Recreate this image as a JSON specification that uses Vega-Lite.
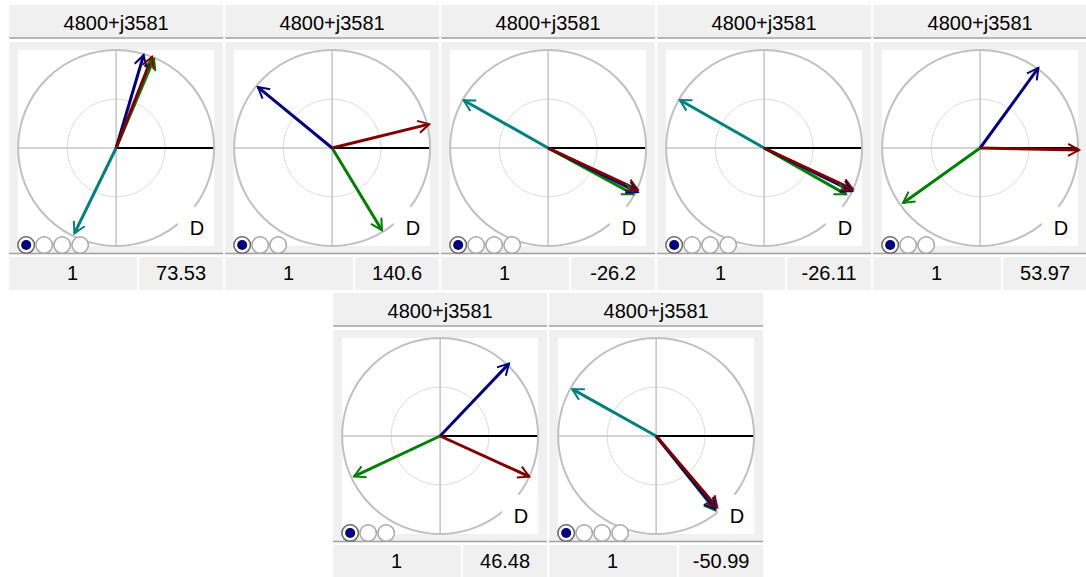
{
"$schema": "https://vega.github.io/schema/vega-lite/v6.json",
"padding": {"left": 8, "top": 5, "right": 0, "bottom": 0},
"background": "#ffffff",
"config": {"view": {"stroke": null}, "font": "Liberation Sans", "text": {"font": "Liberation Sans"}, "axis": {"disable": true}, "legend": {"disable": true}},
"datasets": {
"panels": [
{"panel": 1, "title": "4800+j3581", "ref": "1", "value": "73.53"},
{"panel": 2, "title": "4800+j3581", "ref": "1", "value": "140.6"},
{"panel": 3, "title": "4800+j3581", "ref": "1", "value": "-26.2"},
{"panel": 4, "title": "4800+j3581", "ref": "1", "value": "-26.11"},
{"panel": 5, "title": "4800+j3581", "ref": "1", "value": "53.97"},
{"panel": 6, "title": "4800+j3581", "ref": "1", "value": "46.48"},
{"panel": 7, "title": "4800+j3581", "ref": "1", "value": "-50.99"}
],
"phasors": [
{"panel": 1, "phase": "teal", "idx": 4, "ang": -116, "x": -0.4252, "y": -0.8718},
{"panel": 1, "phase": "green", "idx": 3, "ang": 67, "x": 0.3868, "y": 0.9113},
{"panel": 1, "phase": "navy", "idx": 1, "ang": 73.53, "x": 0.2807, "y": 0.9494},
{"panel": 1, "phase": "red", "idx": 2, "ang": 68.5, "x": 0.3665, "y": 0.9304},
{"panel": 2, "phase": "green", "idx": 3, "ang": -58.8, "x": 0.5077, "y": -0.8383},
{"panel": 2, "phase": "navy", "idx": 1, "ang": 140.6, "x": -0.7573, "y": 0.6221},
{"panel": 2, "phase": "red", "idx": 2, "ang": 13.8, "x": 0.9906, "y": 0.2433},
{"panel": 3, "phase": "teal", "idx": 4, "ang": 150.5, "x": -0.8617, "y": 0.4875},
{"panel": 3, "phase": "green", "idx": 3, "ang": -28.5, "x": 0.87, "y": -0.4724},
{"panel": 3, "phase": "navy", "idx": 1, "ang": -26.2, "x": 0.9152, "y": -0.4503},
{"panel": 3, "phase": "red", "idx": 2, "ang": -25, "x": 0.9154, "y": -0.4268},
{"panel": 4, "phase": "teal", "idx": 4, "ang": 150.3, "x": -0.8599, "y": 0.4905},
{"panel": 4, "phase": "green", "idx": 3, "ang": -29.5, "x": 0.8355, "y": -0.4727},
{"panel": 4, "phase": "navy", "idx": 1, "ang": -26.11, "x": 0.898, "y": -0.4401},
{"panel": 4, "phase": "red", "idx": 2, "ang": -25, "x": 0.9063, "y": -0.4226},
{"panel": 5, "phase": "green", "idx": 3, "ang": -144.5, "x": -0.7856, "y": -0.5604},
{"panel": 5, "phase": "navy", "idx": 1, "ang": 53.97, "x": 0.5941, "y": 0.8168},
{"panel": 5, "phase": "red", "idx": 2, "ang": -1.2, "x": 1.0098, "y": -0.0212},
{"panel": 6, "phase": "green", "idx": 3, "ang": -154.8, "x": -0.8777, "y": -0.413},
{"panel": 6, "phase": "navy", "idx": 1, "ang": 46.48, "x": 0.7026, "y": 0.7394},
{"panel": 6, "phase": "red", "idx": 2, "ang": -24.5, "x": 0.91, "y": -0.4147},
{"panel": 7, "phase": "teal", "idx": 4, "ang": 150.8, "x": -0.8554, "y": 0.4781},
{"panel": 7, "phase": "green", "idx": 3, "ang": -51.5, "x": 0.6038, "y": -0.7591},
{"panel": 7, "phase": "navy", "idx": 1, "ang": -50.99, "x": 0.6043, "y": -0.7459},
{"panel": 7, "phase": "red", "idx": 2, "ang": -49.5, "x": 0.6235, "y": -0.73}
]
},
"spacing": 3,
"center": true,
"vconcat": [
{"hconcat": [
{"width":214,"height":285,"data":{"name":"panels"},"transform":[{"filter":"datum.panel == 1"}],"layer":[
{"mark":{"type":"rect","color":"#f0f0f0"},"encoding":{"x":{"datum":-1.0918,"type":"quantitative","scale":{"domain":[-1.0918,1.0918],"nice":false,"zero":false},"axis":null},"x2":{"datum":1.0918},"y":{"datum":1.4592,"type":"quantitative","scale":{"domain":[-1.449,1.4592],"nice":false,"zero":false},"axis":null},"y2":{"datum":1.1224}}},
{"mark":{"type":"rule","color":"#a0a0a0","strokeWidth":1.5},"encoding":{"x":{"datum":-1.0918},"x2":{"datum":1.0918},"y":{"datum":1.1224}}},
{"mark":{"type":"text","fontSize":20,"color":"#000000"},"encoding":{"x":{"datum":0},"y":{"datum":1.268},"text":{"field":"title"}}},
{"mark":{"type":"rect","color":"#f0f0f0"},"encoding":{"x":{"datum":-1.0918},"x2":{"datum":1.0918},"y":{"datum":1.0816},"y2":{"datum":-1.0765}}},
{"mark":{"type":"rule","color":"#a0a0a0","strokeWidth":1.5},"encoding":{"x":{"datum":-1.0918},"x2":{"datum":1.0918},"y":{"datum":-1.0765}}},
{"mark":{"type":"rect","color":"#ffffff"},"encoding":{"x":{"datum":-1},"x2":{"datum":1},"y":{"datum":1},"y2":{"datum":-1}}},
{"mark":{"type":"point","shape":"circle","size":9604,"filled":false,"color":"#dcdcdc","strokeWidth":1,"opacity":1},"encoding":{"x":{"datum":0},"y":{"datum":0}}},
{"mark":{"type":"rule","color":"#c4c4c4","strokeWidth":1.5},"encoding":{"x":{"datum":0},"y":{"datum":-1},"y2":{"datum":1}}},
{"mark":{"type":"rule","color":"#c4c4c4","strokeWidth":1.5},"encoding":{"x":{"datum":-1},"x2":{"datum":0},"y":{"datum":0}}},
{"mark":{"type":"rule","color":"#000000","strokeWidth":2},"encoding":{"x":{"datum":0},"x2":{"datum":1},"y":{"datum":0}}},
{"mark":{"type":"point","shape":"circle","size":38416,"filled":false,"color":"#c0c0c0","strokeWidth":2,"opacity":1},"encoding":{"x":{"datum":0},"y":{"datum":0}}},
{"mark":{"type":"rect","color":"#ffffff"},"encoding":{"x":{"datum":0.63},"x2":{"datum":1},"y":{"datum":-0.6},"y2":{"datum":-1}}},
{"mark":{"type":"text","fontSize":20,"color":"#000000"},"encoding":{"x":{"datum":0.824},"y":{"datum":-0.829},"text":{"value":"D"}}},
{"data":{"name":"phasors"},"transform":[{"filter":"datum.panel == 1"}],"mark":{"type":"rule","strokeWidth":3},"encoding":{"x":{"field":"x","type":"quantitative"},"y":{"field":"y","type":"quantitative"},"x2":{"datum":0},"y2":{"datum":0},"color":{"field":"phase","type":"nominal","scale":{"domain":["navy","red","green","teal"],"range":["#000080","#800000","#008000","#008080"]},"legend":null}}},
{"data":{"name":"phasors"},"transform":[{"filter":"datum.panel == 1"}],"mark":{"type":"point","shape":"M -1 -0.55 L 0 0 L -1 0.55","size":484,"filled":false,"strokeWidth":2,"opacity":1},"encoding":{"x":{"field":"x","type":"quantitative"},"y":{"field":"y","type":"quantitative"},"angle":{"field":"ang","type":"quantitative","scale":{"domain":[0,360],"range":[360,0]}},"color":{"field":"phase","type":"nominal","scale":{"domain":["navy","red","green","teal"],"range":["#000080","#800000","#008000","#008080"]},"legend":null}}},
{"data":{"name":"phasors"},"transform":[{"filter":"datum.panel == 1"}],"mark":{"type":"point","shape":"circle","size":272,"filled":true,"fill":"#ffffff","stroke":"#a8a8a8","strokeWidth":1.5,"opacity":1},"encoding":{"x":{"datum":-0.918},"y":{"datum":-0.99},"xOffset":{"field":"idx","type":"ordinal","scale":{"type":"point","domain":[1,2,3,4],"range":[0,54],"padding":0}}}},
{"data":{"name":"phasors"},"transform":[{"filter":"datum.panel == 1 && datum.idx == 1"}],"mark":{"type":"point","shape":"circle","size":272,"filled":true,"fill":"#ffffff","stroke":"#6e6e6e","strokeWidth":1.5,"opacity":1},"encoding":{"x":{"datum":-0.918},"y":{"datum":-0.99}}},
{"data":{"name":"phasors"},"transform":[{"filter":"datum.panel == 1 && datum.idx == 1"}],"mark":{"type":"point","shape":"circle","size":100,"filled":true,"color":"#000080","opacity":1},"encoding":{"x":{"datum":-0.918},"y":{"datum":-0.99}}},
{"mark":{"type":"rect","color":"#f0f0f0"},"encoding":{"x":{"datum":-1.0918},"x2":{"datum":0.214},"y":{"datum":-1.112},"y2":{"datum":-1.449}}},
{"mark":{"type":"rect","color":"#f0f0f0"},"encoding":{"x":{"datum":0.235},"x2":{"datum":1.0918},"y":{"datum":-1.112},"y2":{"datum":-1.449}}},
{"mark":{"type":"text","fontSize":20,"color":"#000000"},"encoding":{"x":{"datum":-0.445},"y":{"datum":-1.288},"text":{"field":"ref"}}},
{"mark":{"type":"text","fontSize":20,"color":"#000000"},"encoding":{"x":{"datum":0.663},"y":{"datum":-1.288},"text":{"field":"value"}}}
]},
{"width":214,"height":285,"data":{"name":"panels"},"transform":[{"filter":"datum.panel == 2"}],"layer":[
{"mark":{"type":"rect","color":"#f0f0f0"},"encoding":{"x":{"datum":-1.0918,"type":"quantitative","scale":{"domain":[-1.0918,1.0918],"nice":false,"zero":false},"axis":null},"x2":{"datum":1.0918},"y":{"datum":1.4592,"type":"quantitative","scale":{"domain":[-1.449,1.4592],"nice":false,"zero":false},"axis":null},"y2":{"datum":1.1224}}},
{"mark":{"type":"rule","color":"#a0a0a0","strokeWidth":1.5},"encoding":{"x":{"datum":-1.0918},"x2":{"datum":1.0918},"y":{"datum":1.1224}}},
{"mark":{"type":"text","fontSize":20,"color":"#000000"},"encoding":{"x":{"datum":0},"y":{"datum":1.268},"text":{"field":"title"}}},
{"mark":{"type":"rect","color":"#f0f0f0"},"encoding":{"x":{"datum":-1.0918},"x2":{"datum":1.0918},"y":{"datum":1.0816},"y2":{"datum":-1.0765}}},
{"mark":{"type":"rule","color":"#a0a0a0","strokeWidth":1.5},"encoding":{"x":{"datum":-1.0918},"x2":{"datum":1.0918},"y":{"datum":-1.0765}}},
{"mark":{"type":"rect","color":"#ffffff"},"encoding":{"x":{"datum":-1},"x2":{"datum":1},"y":{"datum":1},"y2":{"datum":-1}}},
{"mark":{"type":"point","shape":"circle","size":9604,"filled":false,"color":"#dcdcdc","strokeWidth":1,"opacity":1},"encoding":{"x":{"datum":0},"y":{"datum":0}}},
{"mark":{"type":"rule","color":"#c4c4c4","strokeWidth":1.5},"encoding":{"x":{"datum":0},"y":{"datum":-1},"y2":{"datum":1}}},
{"mark":{"type":"rule","color":"#c4c4c4","strokeWidth":1.5},"encoding":{"x":{"datum":-1},"x2":{"datum":0},"y":{"datum":0}}},
{"mark":{"type":"rule","color":"#000000","strokeWidth":2},"encoding":{"x":{"datum":0},"x2":{"datum":1},"y":{"datum":0}}},
{"mark":{"type":"point","shape":"circle","size":38416,"filled":false,"color":"#c0c0c0","strokeWidth":2,"opacity":1},"encoding":{"x":{"datum":0},"y":{"datum":0}}},
{"mark":{"type":"rect","color":"#ffffff"},"encoding":{"x":{"datum":0.63},"x2":{"datum":1},"y":{"datum":-0.6},"y2":{"datum":-1}}},
{"mark":{"type":"text","fontSize":20,"color":"#000000"},"encoding":{"x":{"datum":0.824},"y":{"datum":-0.829},"text":{"value":"D"}}},
{"data":{"name":"phasors"},"transform":[{"filter":"datum.panel == 2"}],"mark":{"type":"rule","strokeWidth":3},"encoding":{"x":{"field":"x","type":"quantitative"},"y":{"field":"y","type":"quantitative"},"x2":{"datum":0},"y2":{"datum":0},"color":{"field":"phase","type":"nominal","scale":{"domain":["navy","red","green","teal"],"range":["#000080","#800000","#008000","#008080"]},"legend":null}}},
{"data":{"name":"phasors"},"transform":[{"filter":"datum.panel == 2"}],"mark":{"type":"point","shape":"M -1 -0.55 L 0 0 L -1 0.55","size":484,"filled":false,"strokeWidth":2,"opacity":1},"encoding":{"x":{"field":"x","type":"quantitative"},"y":{"field":"y","type":"quantitative"},"angle":{"field":"ang","type":"quantitative","scale":{"domain":[0,360],"range":[360,0]}},"color":{"field":"phase","type":"nominal","scale":{"domain":["navy","red","green","teal"],"range":["#000080","#800000","#008000","#008080"]},"legend":null}}},
{"data":{"name":"phasors"},"transform":[{"filter":"datum.panel == 2"}],"mark":{"type":"point","shape":"circle","size":272,"filled":true,"fill":"#ffffff","stroke":"#a8a8a8","strokeWidth":1.5,"opacity":1},"encoding":{"x":{"datum":-0.918},"y":{"datum":-0.99},"xOffset":{"field":"idx","type":"ordinal","scale":{"type":"point","domain":[1,2,3,4],"range":[0,54],"padding":0}}}},
{"data":{"name":"phasors"},"transform":[{"filter":"datum.panel == 2 && datum.idx == 1"}],"mark":{"type":"point","shape":"circle","size":272,"filled":true,"fill":"#ffffff","stroke":"#6e6e6e","strokeWidth":1.5,"opacity":1},"encoding":{"x":{"datum":-0.918},"y":{"datum":-0.99}}},
{"data":{"name":"phasors"},"transform":[{"filter":"datum.panel == 2 && datum.idx == 1"}],"mark":{"type":"point","shape":"circle","size":100,"filled":true,"color":"#000080","opacity":1},"encoding":{"x":{"datum":-0.918},"y":{"datum":-0.99}}},
{"mark":{"type":"rect","color":"#f0f0f0"},"encoding":{"x":{"datum":-1.0918},"x2":{"datum":0.214},"y":{"datum":-1.112},"y2":{"datum":-1.449}}},
{"mark":{"type":"rect","color":"#f0f0f0"},"encoding":{"x":{"datum":0.235},"x2":{"datum":1.0918},"y":{"datum":-1.112},"y2":{"datum":-1.449}}},
{"mark":{"type":"text","fontSize":20,"color":"#000000"},"encoding":{"x":{"datum":-0.445},"y":{"datum":-1.288},"text":{"field":"ref"}}},
{"mark":{"type":"text","fontSize":20,"color":"#000000"},"encoding":{"x":{"datum":0.663},"y":{"datum":-1.288},"text":{"field":"value"}}}
]},
{"width":214,"height":285,"data":{"name":"panels"},"transform":[{"filter":"datum.panel == 3"}],"layer":[
{"mark":{"type":"rect","color":"#f0f0f0"},"encoding":{"x":{"datum":-1.0918,"type":"quantitative","scale":{"domain":[-1.0918,1.0918],"nice":false,"zero":false},"axis":null},"x2":{"datum":1.0918},"y":{"datum":1.4592,"type":"quantitative","scale":{"domain":[-1.449,1.4592],"nice":false,"zero":false},"axis":null},"y2":{"datum":1.1224}}},
{"mark":{"type":"rule","color":"#a0a0a0","strokeWidth":1.5},"encoding":{"x":{"datum":-1.0918},"x2":{"datum":1.0918},"y":{"datum":1.1224}}},
{"mark":{"type":"text","fontSize":20,"color":"#000000"},"encoding":{"x":{"datum":0},"y":{"datum":1.268},"text":{"field":"title"}}},
{"mark":{"type":"rect","color":"#f0f0f0"},"encoding":{"x":{"datum":-1.0918},"x2":{"datum":1.0918},"y":{"datum":1.0816},"y2":{"datum":-1.0765}}},
{"mark":{"type":"rule","color":"#a0a0a0","strokeWidth":1.5},"encoding":{"x":{"datum":-1.0918},"x2":{"datum":1.0918},"y":{"datum":-1.0765}}},
{"mark":{"type":"rect","color":"#ffffff"},"encoding":{"x":{"datum":-1},"x2":{"datum":1},"y":{"datum":1},"y2":{"datum":-1}}},
{"mark":{"type":"point","shape":"circle","size":9604,"filled":false,"color":"#dcdcdc","strokeWidth":1,"opacity":1},"encoding":{"x":{"datum":0},"y":{"datum":0}}},
{"mark":{"type":"rule","color":"#c4c4c4","strokeWidth":1.5},"encoding":{"x":{"datum":0},"y":{"datum":-1},"y2":{"datum":1}}},
{"mark":{"type":"rule","color":"#c4c4c4","strokeWidth":1.5},"encoding":{"x":{"datum":-1},"x2":{"datum":0},"y":{"datum":0}}},
{"mark":{"type":"rule","color":"#000000","strokeWidth":2},"encoding":{"x":{"datum":0},"x2":{"datum":1},"y":{"datum":0}}},
{"mark":{"type":"point","shape":"circle","size":38416,"filled":false,"color":"#c0c0c0","strokeWidth":2,"opacity":1},"encoding":{"x":{"datum":0},"y":{"datum":0}}},
{"mark":{"type":"rect","color":"#ffffff"},"encoding":{"x":{"datum":0.63},"x2":{"datum":1},"y":{"datum":-0.6},"y2":{"datum":-1}}},
{"mark":{"type":"text","fontSize":20,"color":"#000000"},"encoding":{"x":{"datum":0.824},"y":{"datum":-0.829},"text":{"value":"D"}}},
{"data":{"name":"phasors"},"transform":[{"filter":"datum.panel == 3"}],"mark":{"type":"rule","strokeWidth":3},"encoding":{"x":{"field":"x","type":"quantitative"},"y":{"field":"y","type":"quantitative"},"x2":{"datum":0},"y2":{"datum":0},"color":{"field":"phase","type":"nominal","scale":{"domain":["navy","red","green","teal"],"range":["#000080","#800000","#008000","#008080"]},"legend":null}}},
{"data":{"name":"phasors"},"transform":[{"filter":"datum.panel == 3"}],"mark":{"type":"point","shape":"M -1 -0.55 L 0 0 L -1 0.55","size":484,"filled":false,"strokeWidth":2,"opacity":1},"encoding":{"x":{"field":"x","type":"quantitative"},"y":{"field":"y","type":"quantitative"},"angle":{"field":"ang","type":"quantitative","scale":{"domain":[0,360],"range":[360,0]}},"color":{"field":"phase","type":"nominal","scale":{"domain":["navy","red","green","teal"],"range":["#000080","#800000","#008000","#008080"]},"legend":null}}},
{"data":{"name":"phasors"},"transform":[{"filter":"datum.panel == 3"}],"mark":{"type":"point","shape":"circle","size":272,"filled":true,"fill":"#ffffff","stroke":"#a8a8a8","strokeWidth":1.5,"opacity":1},"encoding":{"x":{"datum":-0.918},"y":{"datum":-0.99},"xOffset":{"field":"idx","type":"ordinal","scale":{"type":"point","domain":[1,2,3,4],"range":[0,54],"padding":0}}}},
{"data":{"name":"phasors"},"transform":[{"filter":"datum.panel == 3 && datum.idx == 1"}],"mark":{"type":"point","shape":"circle","size":272,"filled":true,"fill":"#ffffff","stroke":"#6e6e6e","strokeWidth":1.5,"opacity":1},"encoding":{"x":{"datum":-0.918},"y":{"datum":-0.99}}},
{"data":{"name":"phasors"},"transform":[{"filter":"datum.panel == 3 && datum.idx == 1"}],"mark":{"type":"point","shape":"circle","size":100,"filled":true,"color":"#000080","opacity":1},"encoding":{"x":{"datum":-0.918},"y":{"datum":-0.99}}},
{"mark":{"type":"rect","color":"#f0f0f0"},"encoding":{"x":{"datum":-1.0918},"x2":{"datum":0.214},"y":{"datum":-1.112},"y2":{"datum":-1.449}}},
{"mark":{"type":"rect","color":"#f0f0f0"},"encoding":{"x":{"datum":0.235},"x2":{"datum":1.0918},"y":{"datum":-1.112},"y2":{"datum":-1.449}}},
{"mark":{"type":"text","fontSize":20,"color":"#000000"},"encoding":{"x":{"datum":-0.445},"y":{"datum":-1.288},"text":{"field":"ref"}}},
{"mark":{"type":"text","fontSize":20,"color":"#000000"},"encoding":{"x":{"datum":0.663},"y":{"datum":-1.288},"text":{"field":"value"}}}
]},
{"width":214,"height":285,"data":{"name":"panels"},"transform":[{"filter":"datum.panel == 4"}],"layer":[
{"mark":{"type":"rect","color":"#f0f0f0"},"encoding":{"x":{"datum":-1.0918,"type":"quantitative","scale":{"domain":[-1.0918,1.0918],"nice":false,"zero":false},"axis":null},"x2":{"datum":1.0918},"y":{"datum":1.4592,"type":"quantitative","scale":{"domain":[-1.449,1.4592],"nice":false,"zero":false},"axis":null},"y2":{"datum":1.1224}}},
{"mark":{"type":"rule","color":"#a0a0a0","strokeWidth":1.5},"encoding":{"x":{"datum":-1.0918},"x2":{"datum":1.0918},"y":{"datum":1.1224}}},
{"mark":{"type":"text","fontSize":20,"color":"#000000"},"encoding":{"x":{"datum":0},"y":{"datum":1.268},"text":{"field":"title"}}},
{"mark":{"type":"rect","color":"#f0f0f0"},"encoding":{"x":{"datum":-1.0918},"x2":{"datum":1.0918},"y":{"datum":1.0816},"y2":{"datum":-1.0765}}},
{"mark":{"type":"rule","color":"#a0a0a0","strokeWidth":1.5},"encoding":{"x":{"datum":-1.0918},"x2":{"datum":1.0918},"y":{"datum":-1.0765}}},
{"mark":{"type":"rect","color":"#ffffff"},"encoding":{"x":{"datum":-1},"x2":{"datum":1},"y":{"datum":1},"y2":{"datum":-1}}},
{"mark":{"type":"point","shape":"circle","size":9604,"filled":false,"color":"#dcdcdc","strokeWidth":1,"opacity":1},"encoding":{"x":{"datum":0},"y":{"datum":0}}},
{"mark":{"type":"rule","color":"#c4c4c4","strokeWidth":1.5},"encoding":{"x":{"datum":0},"y":{"datum":-1},"y2":{"datum":1}}},
{"mark":{"type":"rule","color":"#c4c4c4","strokeWidth":1.5},"encoding":{"x":{"datum":-1},"x2":{"datum":0},"y":{"datum":0}}},
{"mark":{"type":"rule","color":"#000000","strokeWidth":2},"encoding":{"x":{"datum":0},"x2":{"datum":1},"y":{"datum":0}}},
{"mark":{"type":"point","shape":"circle","size":38416,"filled":false,"color":"#c0c0c0","strokeWidth":2,"opacity":1},"encoding":{"x":{"datum":0},"y":{"datum":0}}},
{"mark":{"type":"rect","color":"#ffffff"},"encoding":{"x":{"datum":0.63},"x2":{"datum":1},"y":{"datum":-0.6},"y2":{"datum":-1}}},
{"mark":{"type":"text","fontSize":20,"color":"#000000"},"encoding":{"x":{"datum":0.824},"y":{"datum":-0.829},"text":{"value":"D"}}},
{"data":{"name":"phasors"},"transform":[{"filter":"datum.panel == 4"}],"mark":{"type":"rule","strokeWidth":3},"encoding":{"x":{"field":"x","type":"quantitative"},"y":{"field":"y","type":"quantitative"},"x2":{"datum":0},"y2":{"datum":0},"color":{"field":"phase","type":"nominal","scale":{"domain":["navy","red","green","teal"],"range":["#000080","#800000","#008000","#008080"]},"legend":null}}},
{"data":{"name":"phasors"},"transform":[{"filter":"datum.panel == 4"}],"mark":{"type":"point","shape":"M -1 -0.55 L 0 0 L -1 0.55","size":484,"filled":false,"strokeWidth":2,"opacity":1},"encoding":{"x":{"field":"x","type":"quantitative"},"y":{"field":"y","type":"quantitative"},"angle":{"field":"ang","type":"quantitative","scale":{"domain":[0,360],"range":[360,0]}},"color":{"field":"phase","type":"nominal","scale":{"domain":["navy","red","green","teal"],"range":["#000080","#800000","#008000","#008080"]},"legend":null}}},
{"data":{"name":"phasors"},"transform":[{"filter":"datum.panel == 4"}],"mark":{"type":"point","shape":"circle","size":272,"filled":true,"fill":"#ffffff","stroke":"#a8a8a8","strokeWidth":1.5,"opacity":1},"encoding":{"x":{"datum":-0.918},"y":{"datum":-0.99},"xOffset":{"field":"idx","type":"ordinal","scale":{"type":"point","domain":[1,2,3,4],"range":[0,54],"padding":0}}}},
{"data":{"name":"phasors"},"transform":[{"filter":"datum.panel == 4 && datum.idx == 1"}],"mark":{"type":"point","shape":"circle","size":272,"filled":true,"fill":"#ffffff","stroke":"#6e6e6e","strokeWidth":1.5,"opacity":1},"encoding":{"x":{"datum":-0.918},"y":{"datum":-0.99}}},
{"data":{"name":"phasors"},"transform":[{"filter":"datum.panel == 4 && datum.idx == 1"}],"mark":{"type":"point","shape":"circle","size":100,"filled":true,"color":"#000080","opacity":1},"encoding":{"x":{"datum":-0.918},"y":{"datum":-0.99}}},
{"mark":{"type":"rect","color":"#f0f0f0"},"encoding":{"x":{"datum":-1.0918},"x2":{"datum":0.214},"y":{"datum":-1.112},"y2":{"datum":-1.449}}},
{"mark":{"type":"rect","color":"#f0f0f0"},"encoding":{"x":{"datum":0.235},"x2":{"datum":1.0918},"y":{"datum":-1.112},"y2":{"datum":-1.449}}},
{"mark":{"type":"text","fontSize":20,"color":"#000000"},"encoding":{"x":{"datum":-0.445},"y":{"datum":-1.288},"text":{"field":"ref"}}},
{"mark":{"type":"text","fontSize":20,"color":"#000000"},"encoding":{"x":{"datum":0.663},"y":{"datum":-1.288},"text":{"field":"value"}}}
]},
{"width":214,"height":285,"data":{"name":"panels"},"transform":[{"filter":"datum.panel == 5"}],"layer":[
{"mark":{"type":"rect","color":"#f0f0f0"},"encoding":{"x":{"datum":-1.0918,"type":"quantitative","scale":{"domain":[-1.0918,1.0918],"nice":false,"zero":false},"axis":null},"x2":{"datum":1.0918},"y":{"datum":1.4592,"type":"quantitative","scale":{"domain":[-1.449,1.4592],"nice":false,"zero":false},"axis":null},"y2":{"datum":1.1224}}},
{"mark":{"type":"rule","color":"#a0a0a0","strokeWidth":1.5},"encoding":{"x":{"datum":-1.0918},"x2":{"datum":1.0918},"y":{"datum":1.1224}}},
{"mark":{"type":"text","fontSize":20,"color":"#000000"},"encoding":{"x":{"datum":0},"y":{"datum":1.268},"text":{"field":"title"}}},
{"mark":{"type":"rect","color":"#f0f0f0"},"encoding":{"x":{"datum":-1.0918},"x2":{"datum":1.0918},"y":{"datum":1.0816},"y2":{"datum":-1.0765}}},
{"mark":{"type":"rule","color":"#a0a0a0","strokeWidth":1.5},"encoding":{"x":{"datum":-1.0918},"x2":{"datum":1.0918},"y":{"datum":-1.0765}}},
{"mark":{"type":"rect","color":"#ffffff"},"encoding":{"x":{"datum":-1},"x2":{"datum":1},"y":{"datum":1},"y2":{"datum":-1}}},
{"mark":{"type":"point","shape":"circle","size":9604,"filled":false,"color":"#dcdcdc","strokeWidth":1,"opacity":1},"encoding":{"x":{"datum":0},"y":{"datum":0}}},
{"mark":{"type":"rule","color":"#c4c4c4","strokeWidth":1.5},"encoding":{"x":{"datum":0},"y":{"datum":-1},"y2":{"datum":1}}},
{"mark":{"type":"rule","color":"#c4c4c4","strokeWidth":1.5},"encoding":{"x":{"datum":-1},"x2":{"datum":0},"y":{"datum":0}}},
{"mark":{"type":"rule","color":"#000000","strokeWidth":2},"encoding":{"x":{"datum":0},"x2":{"datum":1},"y":{"datum":0}}},
{"mark":{"type":"point","shape":"circle","size":38416,"filled":false,"color":"#c0c0c0","strokeWidth":2,"opacity":1},"encoding":{"x":{"datum":0},"y":{"datum":0}}},
{"mark":{"type":"rect","color":"#ffffff"},"encoding":{"x":{"datum":0.63},"x2":{"datum":1},"y":{"datum":-0.6},"y2":{"datum":-1}}},
{"mark":{"type":"text","fontSize":20,"color":"#000000"},"encoding":{"x":{"datum":0.824},"y":{"datum":-0.829},"text":{"value":"D"}}},
{"data":{"name":"phasors"},"transform":[{"filter":"datum.panel == 5"}],"mark":{"type":"rule","strokeWidth":3},"encoding":{"x":{"field":"x","type":"quantitative"},"y":{"field":"y","type":"quantitative"},"x2":{"datum":0},"y2":{"datum":0},"color":{"field":"phase","type":"nominal","scale":{"domain":["navy","red","green","teal"],"range":["#000080","#800000","#008000","#008080"]},"legend":null}}},
{"data":{"name":"phasors"},"transform":[{"filter":"datum.panel == 5"}],"mark":{"type":"point","shape":"M -1 -0.55 L 0 0 L -1 0.55","size":484,"filled":false,"strokeWidth":2,"opacity":1},"encoding":{"x":{"field":"x","type":"quantitative"},"y":{"field":"y","type":"quantitative"},"angle":{"field":"ang","type":"quantitative","scale":{"domain":[0,360],"range":[360,0]}},"color":{"field":"phase","type":"nominal","scale":{"domain":["navy","red","green","teal"],"range":["#000080","#800000","#008000","#008080"]},"legend":null}}},
{"data":{"name":"phasors"},"transform":[{"filter":"datum.panel == 5"}],"mark":{"type":"point","shape":"circle","size":272,"filled":true,"fill":"#ffffff","stroke":"#a8a8a8","strokeWidth":1.5,"opacity":1},"encoding":{"x":{"datum":-0.918},"y":{"datum":-0.99},"xOffset":{"field":"idx","type":"ordinal","scale":{"type":"point","domain":[1,2,3,4],"range":[0,54],"padding":0}}}},
{"data":{"name":"phasors"},"transform":[{"filter":"datum.panel == 5 && datum.idx == 1"}],"mark":{"type":"point","shape":"circle","size":272,"filled":true,"fill":"#ffffff","stroke":"#6e6e6e","strokeWidth":1.5,"opacity":1},"encoding":{"x":{"datum":-0.918},"y":{"datum":-0.99}}},
{"data":{"name":"phasors"},"transform":[{"filter":"datum.panel == 5 && datum.idx == 1"}],"mark":{"type":"point","shape":"circle","size":100,"filled":true,"color":"#000080","opacity":1},"encoding":{"x":{"datum":-0.918},"y":{"datum":-0.99}}},
{"mark":{"type":"rect","color":"#f0f0f0"},"encoding":{"x":{"datum":-1.0918},"x2":{"datum":0.214},"y":{"datum":-1.112},"y2":{"datum":-1.449}}},
{"mark":{"type":"rect","color":"#f0f0f0"},"encoding":{"x":{"datum":0.235},"x2":{"datum":1.0918},"y":{"datum":-1.112},"y2":{"datum":-1.449}}},
{"mark":{"type":"text","fontSize":20,"color":"#000000"},"encoding":{"x":{"datum":-0.445},"y":{"datum":-1.288},"text":{"field":"ref"}}},
{"mark":{"type":"text","fontSize":20,"color":"#000000"},"encoding":{"x":{"datum":0.663},"y":{"datum":-1.288},"text":{"field":"value"}}}
]}
], "spacing": 2, "bounds": "flush"},
{"hconcat": [
{"width":214,"height":285,"data":{"name":"panels"},"transform":[{"filter":"datum.panel == 6"}],"layer":[
{"mark":{"type":"rect","color":"#f0f0f0"},"encoding":{"x":{"datum":-1.0918,"type":"quantitative","scale":{"domain":[-1.0918,1.0918],"nice":false,"zero":false},"axis":null},"x2":{"datum":1.0918},"y":{"datum":1.4592,"type":"quantitative","scale":{"domain":[-1.449,1.4592],"nice":false,"zero":false},"axis":null},"y2":{"datum":1.1224}}},
{"mark":{"type":"rule","color":"#a0a0a0","strokeWidth":1.5},"encoding":{"x":{"datum":-1.0918},"x2":{"datum":1.0918},"y":{"datum":1.1224}}},
{"mark":{"type":"text","fontSize":20,"color":"#000000"},"encoding":{"x":{"datum":0},"y":{"datum":1.268},"text":{"field":"title"}}},
{"mark":{"type":"rect","color":"#f0f0f0"},"encoding":{"x":{"datum":-1.0918},"x2":{"datum":1.0918},"y":{"datum":1.0816},"y2":{"datum":-1.0765}}},
{"mark":{"type":"rule","color":"#a0a0a0","strokeWidth":1.5},"encoding":{"x":{"datum":-1.0918},"x2":{"datum":1.0918},"y":{"datum":-1.0765}}},
{"mark":{"type":"rect","color":"#ffffff"},"encoding":{"x":{"datum":-1},"x2":{"datum":1},"y":{"datum":1},"y2":{"datum":-1}}},
{"mark":{"type":"point","shape":"circle","size":9604,"filled":false,"color":"#dcdcdc","strokeWidth":1,"opacity":1},"encoding":{"x":{"datum":0},"y":{"datum":0}}},
{"mark":{"type":"rule","color":"#c4c4c4","strokeWidth":1.5},"encoding":{"x":{"datum":0},"y":{"datum":-1},"y2":{"datum":1}}},
{"mark":{"type":"rule","color":"#c4c4c4","strokeWidth":1.5},"encoding":{"x":{"datum":-1},"x2":{"datum":0},"y":{"datum":0}}},
{"mark":{"type":"rule","color":"#000000","strokeWidth":2},"encoding":{"x":{"datum":0},"x2":{"datum":1},"y":{"datum":0}}},
{"mark":{"type":"point","shape":"circle","size":38416,"filled":false,"color":"#c0c0c0","strokeWidth":2,"opacity":1},"encoding":{"x":{"datum":0},"y":{"datum":0}}},
{"mark":{"type":"rect","color":"#ffffff"},"encoding":{"x":{"datum":0.63},"x2":{"datum":1},"y":{"datum":-0.6},"y2":{"datum":-1}}},
{"mark":{"type":"text","fontSize":20,"color":"#000000"},"encoding":{"x":{"datum":0.824},"y":{"datum":-0.829},"text":{"value":"D"}}},
{"data":{"name":"phasors"},"transform":[{"filter":"datum.panel == 6"}],"mark":{"type":"rule","strokeWidth":3},"encoding":{"x":{"field":"x","type":"quantitative"},"y":{"field":"y","type":"quantitative"},"x2":{"datum":0},"y2":{"datum":0},"color":{"field":"phase","type":"nominal","scale":{"domain":["navy","red","green","teal"],"range":["#000080","#800000","#008000","#008080"]},"legend":null}}},
{"data":{"name":"phasors"},"transform":[{"filter":"datum.panel == 6"}],"mark":{"type":"point","shape":"M -1 -0.55 L 0 0 L -1 0.55","size":484,"filled":false,"strokeWidth":2,"opacity":1},"encoding":{"x":{"field":"x","type":"quantitative"},"y":{"field":"y","type":"quantitative"},"angle":{"field":"ang","type":"quantitative","scale":{"domain":[0,360],"range":[360,0]}},"color":{"field":"phase","type":"nominal","scale":{"domain":["navy","red","green","teal"],"range":["#000080","#800000","#008000","#008080"]},"legend":null}}},
{"data":{"name":"phasors"},"transform":[{"filter":"datum.panel == 6"}],"mark":{"type":"point","shape":"circle","size":272,"filled":true,"fill":"#ffffff","stroke":"#a8a8a8","strokeWidth":1.5,"opacity":1},"encoding":{"x":{"datum":-0.918},"y":{"datum":-0.99},"xOffset":{"field":"idx","type":"ordinal","scale":{"type":"point","domain":[1,2,3,4],"range":[0,54],"padding":0}}}},
{"data":{"name":"phasors"},"transform":[{"filter":"datum.panel == 6 && datum.idx == 1"}],"mark":{"type":"point","shape":"circle","size":272,"filled":true,"fill":"#ffffff","stroke":"#6e6e6e","strokeWidth":1.5,"opacity":1},"encoding":{"x":{"datum":-0.918},"y":{"datum":-0.99}}},
{"data":{"name":"phasors"},"transform":[{"filter":"datum.panel == 6 && datum.idx == 1"}],"mark":{"type":"point","shape":"circle","size":100,"filled":true,"color":"#000080","opacity":1},"encoding":{"x":{"datum":-0.918},"y":{"datum":-0.99}}},
{"mark":{"type":"rect","color":"#f0f0f0"},"encoding":{"x":{"datum":-1.0918},"x2":{"datum":0.214},"y":{"datum":-1.112},"y2":{"datum":-1.449}}},
{"mark":{"type":"rect","color":"#f0f0f0"},"encoding":{"x":{"datum":0.235},"x2":{"datum":1.0918},"y":{"datum":-1.112},"y2":{"datum":-1.449}}},
{"mark":{"type":"text","fontSize":20,"color":"#000000"},"encoding":{"x":{"datum":-0.445},"y":{"datum":-1.288},"text":{"field":"ref"}}},
{"mark":{"type":"text","fontSize":20,"color":"#000000"},"encoding":{"x":{"datum":0.663},"y":{"datum":-1.288},"text":{"field":"value"}}}
]},
{"width":214,"height":285,"data":{"name":"panels"},"transform":[{"filter":"datum.panel == 7"}],"layer":[
{"mark":{"type":"rect","color":"#f0f0f0"},"encoding":{"x":{"datum":-1.0918,"type":"quantitative","scale":{"domain":[-1.0918,1.0918],"nice":false,"zero":false},"axis":null},"x2":{"datum":1.0918},"y":{"datum":1.4592,"type":"quantitative","scale":{"domain":[-1.449,1.4592],"nice":false,"zero":false},"axis":null},"y2":{"datum":1.1224}}},
{"mark":{"type":"rule","color":"#a0a0a0","strokeWidth":1.5},"encoding":{"x":{"datum":-1.0918},"x2":{"datum":1.0918},"y":{"datum":1.1224}}},
{"mark":{"type":"text","fontSize":20,"color":"#000000"},"encoding":{"x":{"datum":0},"y":{"datum":1.268},"text":{"field":"title"}}},
{"mark":{"type":"rect","color":"#f0f0f0"},"encoding":{"x":{"datum":-1.0918},"x2":{"datum":1.0918},"y":{"datum":1.0816},"y2":{"datum":-1.0765}}},
{"mark":{"type":"rule","color":"#a0a0a0","strokeWidth":1.5},"encoding":{"x":{"datum":-1.0918},"x2":{"datum":1.0918},"y":{"datum":-1.0765}}},
{"mark":{"type":"rect","color":"#ffffff"},"encoding":{"x":{"datum":-1},"x2":{"datum":1},"y":{"datum":1},"y2":{"datum":-1}}},
{"mark":{"type":"point","shape":"circle","size":9604,"filled":false,"color":"#dcdcdc","strokeWidth":1,"opacity":1},"encoding":{"x":{"datum":0},"y":{"datum":0}}},
{"mark":{"type":"rule","color":"#c4c4c4","strokeWidth":1.5},"encoding":{"x":{"datum":0},"y":{"datum":-1},"y2":{"datum":1}}},
{"mark":{"type":"rule","color":"#c4c4c4","strokeWidth":1.5},"encoding":{"x":{"datum":-1},"x2":{"datum":0},"y":{"datum":0}}},
{"mark":{"type":"rule","color":"#000000","strokeWidth":2},"encoding":{"x":{"datum":0},"x2":{"datum":1},"y":{"datum":0}}},
{"mark":{"type":"point","shape":"circle","size":38416,"filled":false,"color":"#c0c0c0","strokeWidth":2,"opacity":1},"encoding":{"x":{"datum":0},"y":{"datum":0}}},
{"mark":{"type":"rect","color":"#ffffff"},"encoding":{"x":{"datum":0.63},"x2":{"datum":1},"y":{"datum":-0.6},"y2":{"datum":-1}}},
{"mark":{"type":"text","fontSize":20,"color":"#000000"},"encoding":{"x":{"datum":0.824},"y":{"datum":-0.829},"text":{"value":"D"}}},
{"data":{"name":"phasors"},"transform":[{"filter":"datum.panel == 7"}],"mark":{"type":"rule","strokeWidth":3},"encoding":{"x":{"field":"x","type":"quantitative"},"y":{"field":"y","type":"quantitative"},"x2":{"datum":0},"y2":{"datum":0},"color":{"field":"phase","type":"nominal","scale":{"domain":["navy","red","green","teal"],"range":["#000080","#800000","#008000","#008080"]},"legend":null}}},
{"data":{"name":"phasors"},"transform":[{"filter":"datum.panel == 7"}],"mark":{"type":"point","shape":"M -1 -0.55 L 0 0 L -1 0.55","size":484,"filled":false,"strokeWidth":2,"opacity":1},"encoding":{"x":{"field":"x","type":"quantitative"},"y":{"field":"y","type":"quantitative"},"angle":{"field":"ang","type":"quantitative","scale":{"domain":[0,360],"range":[360,0]}},"color":{"field":"phase","type":"nominal","scale":{"domain":["navy","red","green","teal"],"range":["#000080","#800000","#008000","#008080"]},"legend":null}}},
{"data":{"name":"phasors"},"transform":[{"filter":"datum.panel == 7"}],"mark":{"type":"point","shape":"circle","size":272,"filled":true,"fill":"#ffffff","stroke":"#a8a8a8","strokeWidth":1.5,"opacity":1},"encoding":{"x":{"datum":-0.918},"y":{"datum":-0.99},"xOffset":{"field":"idx","type":"ordinal","scale":{"type":"point","domain":[1,2,3,4],"range":[0,54],"padding":0}}}},
{"data":{"name":"phasors"},"transform":[{"filter":"datum.panel == 7 && datum.idx == 1"}],"mark":{"type":"point","shape":"circle","size":272,"filled":true,"fill":"#ffffff","stroke":"#6e6e6e","strokeWidth":1.5,"opacity":1},"encoding":{"x":{"datum":-0.918},"y":{"datum":-0.99}}},
{"data":{"name":"phasors"},"transform":[{"filter":"datum.panel == 7 && datum.idx == 1"}],"mark":{"type":"point","shape":"circle","size":100,"filled":true,"color":"#000080","opacity":1},"encoding":{"x":{"datum":-0.918},"y":{"datum":-0.99}}},
{"mark":{"type":"rect","color":"#f0f0f0"},"encoding":{"x":{"datum":-1.0918},"x2":{"datum":0.214},"y":{"datum":-1.112},"y2":{"datum":-1.449}}},
{"mark":{"type":"rect","color":"#f0f0f0"},"encoding":{"x":{"datum":0.235},"x2":{"datum":1.0918},"y":{"datum":-1.112},"y2":{"datum":-1.449}}},
{"mark":{"type":"text","fontSize":20,"color":"#000000"},"encoding":{"x":{"datum":-0.445},"y":{"datum":-1.288},"text":{"field":"ref"}}},
{"mark":{"type":"text","fontSize":20,"color":"#000000"},"encoding":{"x":{"datum":0.663},"y":{"datum":-1.288},"text":{"field":"value"}}}
]}
], "spacing": 2, "bounds": "flush"}
]
}
